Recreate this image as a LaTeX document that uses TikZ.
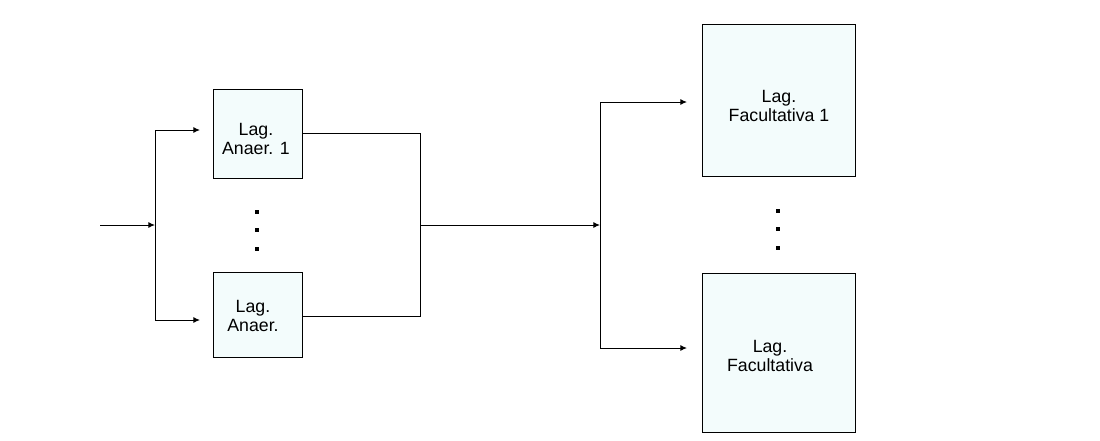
\documentclass[tikz,border=0pt]{standalone}
\usepackage{fontspec}
\setmainfont{Liberation Sans}
\usetikzlibrary{arrows.meta}
\begin{document}
\begin{tikzpicture}[x=0.75pt,y=-0.75pt,
  lagbox/.style={draw=black,line width=0.8pt,fill=boxfill,inner sep=0pt,anchor=north west},
  lagtext/.style={align=center,inner sep=0pt,font=\fontsize{13.3pt}{14.5pt}\selectfont},
  conn/.style={draw=black,line width=0.75pt},
  arr/.style={conn,-{Latex[length=5pt,width=4.5pt]}},
  dotsq/.style={fill=black,minimum size=3.2pt,inner sep=0pt,draw=none}]
\definecolor{boxfill}{HTML}{F3FCFC}
\useasboundingbox (0,0) rectangle (1100,440);
% boxes
\node[lagbox,minimum width=66.75pt,minimum height=66.75pt] (a1) at (213,89) {};
\node[lagbox,minimum width=66.75pt,minimum height=63.75pt] (a2) at (213,272) {};
\node[lagbox,minimum width=114.75pt,minimum height=114pt] (f1) at (702,24) {};
\node[lagbox,minimum width=114.75pt,minimum height=119.25pt] (f2) at (702,273) {};
% texts
\node[lagtext] (ta1) at (256,139) {Lag.\\ Anaer. 1};
\node[lagtext] (ta2) at (253,316) {Lag.\\ Anaer.};
\node[lagtext] (tf1) at (779,106) {Lag.\\ Facultativa 1};
\node[lagtext] (tf2) at (770,356) {Lag.\\ Facultativa};
% dots
\foreach \y [count=\i] in {212,230,249}{\node[dotsq] (da\i) at (257,\y) {};}
\foreach \y [count=\i] in {211,229,248}{\node[dotsq] (df\i) at (778,\y) {};}
% coordinates
\coordinate (in) at (100,225);
\coordinate (split) at (155,225);
\coordinate (sTop) at (155,130);
\coordinate (sBot) at (155,320);
\coordinate (eA1) at (200,130);
\coordinate (eA2) at (200,320);
\coordinate (oA1) at (302,133);
\coordinate (oA2) at (302,316);
\coordinate (jTop) at (420,133);
\coordinate (jBot) at (420,316);
\coordinate (jMid) at (420,225);
\coordinate (split2) at (600,225);
\coordinate (s2Top) at (600,102);
\coordinate (s2Bot) at (600,348);
\coordinate (eF1) at (687,102);
\coordinate (eF2) at (687,348);
% connectors
\draw[arr] (in) -- (split);
\draw[conn] (sTop) -- (sBot);
\draw[arr] (sTop) -- (eA1);
\draw[arr] (sBot) -- (eA2);
\draw[conn] (oA1) -- (jTop) -- (jBot) -- (oA2);
\draw[arr] (jMid) -- (split2);
\draw[conn] (s2Top) -- (s2Bot);
\draw[arr] (s2Top) -- (eF1);
\draw[arr] (s2Bot) -- (eF2);
\end{tikzpicture}
\end{document}
